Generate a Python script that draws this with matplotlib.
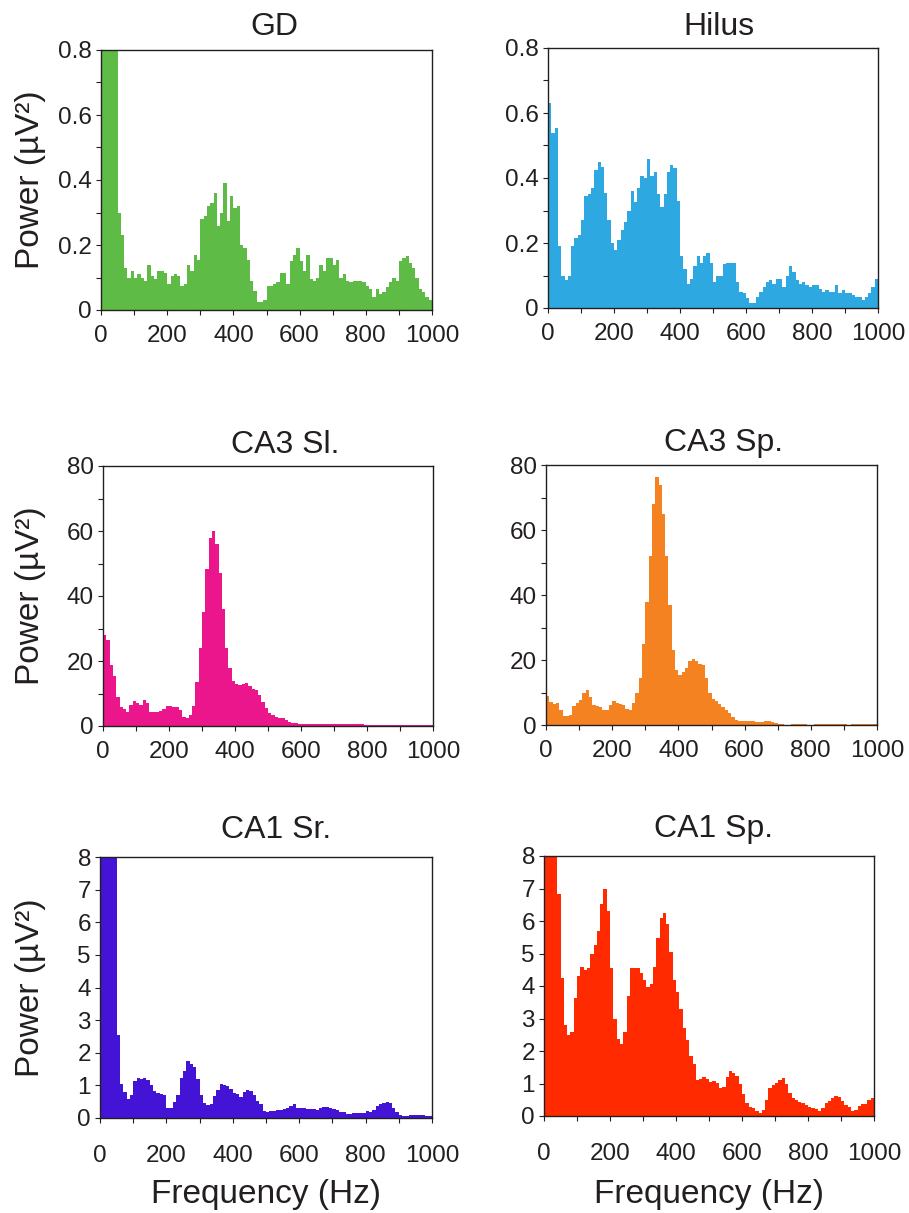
import numpy as np
import matplotlib
matplotlib.use("Agg")
import matplotlib.pyplot as plt
from matplotlib.ticker import MultipleLocator, FuncFormatter

plt.rcParams['font.family'] = ['Liberation Sans', 'DejaVu Sans']

INK = '#231F20'
W, H = 909, 1213

# power spectra, 10 Hz bins from 0 to 1000 Hz
freq = np.arange(0, 1000, 10)

gd = [1.0, 1.0, 1.0, 1.0, 0.9, 0.30, 0.23, 0.13, 0.10, 0.12,
      0.10, 0.11, 0.10, 0.09, 0.14, 0.105, 0.095, 0.12, 0.12, 0.115,
      0.08, 0.105, 0.11, 0.105, 0.075, 0.08, 0.14, 0.12, 0.17, 0.155,
      0.28, 0.29, 0.32, 0.33, 0.36, 0.26, 0.30, 0.39, 0.275, 0.35,
      0.315, 0.32, 0.20, 0.19, 0.155, 0.09, 0.06, 0.025, 0.025, 0.03,
      0.075, 0.075, 0.08, 0.085, 0.115, 0.115, 0.08, 0.15, 0.17, 0.19,
      0.15, 0.12, 0.17, 0.095, 0.09, 0.10, 0.14, 0.12, 0.16, 0.16,
      0.14, 0.155, 0.10, 0.11, 0.09, 0.085, 0.09, 0.09, 0.09, 0.085,
      0.075, 0.065, 0.04, 0.065, 0.05, 0.055, 0.07, 0.085, 0.10, 0.09,
      0.15, 0.16, 0.165, 0.145, 0.13, 0.10, 0.065, 0.055, 0.04, 0.03]

hilus = [0.63, 0.54, 0.555, 0.19, 0.10, 0.085, 0.10, 0.19, 0.215, 0.225,
         0.27, 0.345, 0.35, 0.37, 0.425, 0.45, 0.435, 0.355, 0.27, 0.20,
         0.18, 0.21, 0.24, 0.265, 0.30, 0.36, 0.325, 0.37, 0.405, 0.40,
         0.46, 0.405, 0.42, 0.35, 0.31, 0.35, 0.42, 0.44, 0.43, 0.33,
         0.16, 0.12, 0.075, 0.09, 0.13, 0.16, 0.14, 0.16, 0.17, 0.14,
         0.08, 0.10, 0.10, 0.135, 0.14, 0.14, 0.14, 0.08, 0.05, 0.045,
         0.03, 0.015, 0.015, 0.035, 0.05, 0.065, 0.08, 0.085, 0.075, 0.09,
         0.09, 0.065, 0.10, 0.13, 0.11, 0.085, 0.075, 0.08, 0.07, 0.065,
         0.07, 0.07, 0.06, 0.05, 0.055, 0.05, 0.05, 0.07, 0.045, 0.055,
         0.045, 0.045, 0.04, 0.035, 0.035, 0.025, 0.035, 0.045, 0.065, 0.09]

ca3_sl = [28, 26.6, 18.7, 15.5, 9, 5.7, 5.1, 4.2, 6.5, 7.7,
          7.0, 6.5, 8.0, 7.2, 4.3, 4.4, 4.4, 4.6, 5.3, 6.2,
          6.2, 5.9, 5.9, 4.9, 2.9, 2.6, 3.4, 6.2, 13.5, 23.9,
          35, 48.2, 58, 60, 56, 47, 36, 24, 18, 14,
          13, 12.6, 12.9, 13.1, 12.2, 11.5, 11.0, 9.5, 7.5, 5.5,
          3.9, 3.4, 2.9, 2.6, 2.4, 1.8, 1.2, 0.9, 0.8, 0.6,
          0.5, 0.5, 0.5, 0.5, 0.6, 0.7, 0.7, 0.7, 0.7, 0.7,
          0.6, 0.6, 0.6, 0.6, 0.7, 0.7, 0.7, 0.6, 0.5, 0.4,
          0.2, 0.2, 0.2, 0.2, 0.2, 0.2, 0.2, 0.2, 0.2, 0.2,
          0.4, 0.3, 0.2, 0.2, 0.2, 0.2, 0.2, 0.2, 0.2, 0.2]

ca3_sp = [9.0, 7.0, 6.4, 6.7, 4.6, 2.9, 2.8, 3.2, 5.8, 6.8,
          7.6, 9.8, 10.8, 8.6, 6.2, 5.8, 5.6, 4.6, 4.6, 6.2,
          7.4, 6.9, 6.5, 6.2, 4.8, 4.5, 6.8, 9.8, 14.5, 25,
          38, 52, 68, 76.2, 74, 65, 52, 37, 23, 17,
          15.5, 16.2, 17.5, 19.8, 20.3, 19.8, 18.8, 18.5, 14.5, 10,
          8.0, 7.3, 6.6, 5.6, 4.5, 3.6, 2.6, 1.5, 1.2, 1.2,
          1.2, 1.2, 1.15, 0.9, 0.8, 1.0, 1.3, 1.2, 1.0, 0.7,
          0.4, 0.2, 0.1, 0.1, 0.3, 0.3, 0.3, 0.3, 0.2, 0.1,
          0.1, 0.3, 0.3, 0.3, 0.3, 0.3, 0.3, 0.3, 0.3, 0.3,
          0.3, 0.1, 0.3, 0.3, 0.3, 0.3, 0.3, 0.3, 0.3, 0.3]

ca1_sr = [12, 12, 11, 10, 8.5, 2.55, 1.05, 0.8, 0.58, 0.7,
          1.12, 1.23, 1.2, 1.23, 1.18, 1.02, 0.82, 0.77, 0.75, 0.7,
          0.3, 0.31, 0.5, 0.7, 1.23, 1.45, 1.75, 1.64, 1.55, 1.2,
          0.72, 0.45, 0.4, 0.44, 0.66, 0.85, 1.05, 1.02, 0.97, 0.88,
          0.78, 0.75, 0.64, 0.8, 0.87, 0.82, 0.7, 0.52, 0.44, 0.2,
          0.17, 0.2, 0.2, 0.24, 0.24, 0.28, 0.31, 0.38, 0.42, 0.32,
          0.31, 0.31, 0.28, 0.28, 0.28, 0.26, 0.32, 0.34, 0.34, 0.31,
          0.28, 0.25, 0.18, 0.17, 0.13, 0.12, 0.15, 0.15, 0.15, 0.16,
          0.2, 0.18, 0.24, 0.38, 0.44, 0.47, 0.48, 0.46, 0.32, 0.18,
          0.1, 0.07, 0.05, 0.09, 0.1, 0.09, 0.09, 0.09, 0.06, 0.05]

ca1_sp = [12, 12, 11, 10, 6.82, 4.26, 2.8, 2.5, 2.6, 3.64,
          4.3, 4.6, 4.49, 4.54, 5.0, 5.25, 5.7, 6.53, 6.97, 6.3,
          4.56, 3.0, 2.36, 2.23, 2.6, 3.7, 4.54, 4.54, 4.56, 4.4,
          4.2, 3.96, 4.05, 4.6, 5.48, 6.1, 6.26, 5.9, 5.05, 4.2,
          3.82, 3.3, 2.7, 2.35, 1.85, 1.6, 1.12, 1.15, 1.21, 1.15,
          1.05, 1.08, 1.03, 0.85, 0.9, 1.2, 1.38, 1.33, 1.22, 1.0,
          0.68, 0.4, 0.27, 0.24, 0.16, 0.1, 0.2, 0.5, 0.85, 0.95,
          1.02, 1.12, 1.16, 1.0, 0.7, 0.54, 0.49, 0.44, 0.39, 0.34,
          0.28, 0.26, 0.22, 0.15, 0.25, 0.4, 0.46, 0.55, 0.63, 0.58,
          0.47, 0.35, 0.28, 0.14, 0.2, 0.3, 0.36, 0.36, 0.48, 0.56]

titles = ['GD', 'Hilus', 'CA3 Sl.', 'CA3 Sp.', 'CA1 Sr.', 'CA1 Sp.']
series = [gd, hilus, ca3_sl, ca3_sp, ca1_sr, ca1_sp]
colors = ['#5DBB46', '#2EA8E0', '#EC168C', '#F58220', '#4314D6', '#FF2A00']
ymax = [0.8, 0.8, 80, 80, 8, 8]
ymajor = [0.2, 0.2, 20, 20, 1, 1]
yminor = [0.1, 0.1, 10, 10, 1, 1]

# panel boxes in pixels: left, top, right, bottom
boxes = [(101, 50, 432, 310), (548, 48, 878, 308),
         (103, 466, 433, 726), (546, 465, 877, 725),
         (100, 857, 432, 1118), (544, 856, 874, 1116)]
# title centre x and baseline y, pixels
title_pos = [(274, 35), (719, 35), (285, 453), (724, 451), (276, 838), (714, 837)]

fig = plt.figure(figsize=(W / 100, H / 100), dpi=100)

for i in range(6):
    l, t, r, b = boxes[i]
    ax = fig.add_axes([l / W, 1 - b / H, (r - l) / W, (b - t) / H])
    ax.bar(freq, series[i], width=10, align='edge', color=colors[i], linewidth=0)
    ax.set_xlim(0, 1000)
    ax.set_ylim(0, ymax[i])

    ax.xaxis.set_major_locator(MultipleLocator(200))
    ax.xaxis.set_minor_locator(MultipleLocator(100))
    ax.yaxis.set_major_locator(MultipleLocator(ymajor[i]))
    ax.yaxis.set_minor_locator(MultipleLocator(yminor[i]))
    ax.yaxis.set_major_formatter(FuncFormatter(lambda v, p: f"{v:g}"))

    xpad = 16 if i >= 4 else 7
    ax.tick_params(axis='x', which='both', direction='out', length=3.5, width=0.8,
                   color=INK, labelsize=17.5, labelcolor=INK, pad=xpad)
    ax.tick_params(axis='y', which='both', direction='out', length=3.5, width=0.8,
                   color=INK, labelsize=17.5, labelcolor=INK, pad=3)
    for s in ax.spines.values():
        s.set_color(INK)
        s.set_linewidth(1.0)

    tx, ty = title_pos[i]
    fig.text(tx / W, 1 - ty / H, titles[i], ha='center', va='baseline',
             fontsize=23, color=INK)

    if i % 2 == 0:
        fig.text(31 / W, 1 - (t + b) / 2 / H, 'Power (µV²)', rotation=90,
                 ha='center', va='center', fontsize=24, color=INK)
    if i >= 4:
        fig.text((l + r) / 2 / W, 1 - 1203 / H, 'Frequency (Hz)', ha='center',
                 va='baseline', fontsize=24, color=INK)

fig.savefig('out.png', dpi=100)
